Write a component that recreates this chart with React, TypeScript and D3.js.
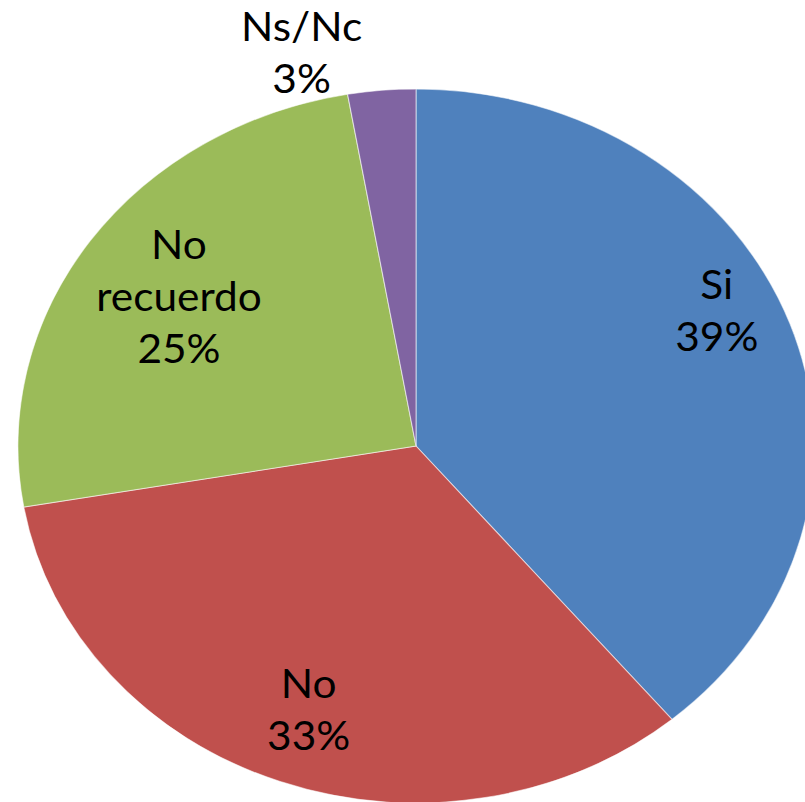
import React from "react";
import * as d3 from "d3";

const categories = ["Si", "No", "No recuerdo", "Ns/Nc"];
const values = [38.9, 33.4, 25.0, 2.75];
const labelLines = [["Si", "39%"], ["No", "33%"], ["No", "recuerdo", "25%"], ["Ns/Nc", "3%"]];
const colors = ["#4F81BD", "#C0504D", "#9BBB59", "#8064A2"];

const W = 805, H = 802;
const CX = 416, CY = 446, R = 357, SX = 1.115;
const labelRadius = [0.846, 0.786, 0.728, 1.138];
const labelAngleShift = [-0.117, 0, 0, -0.169];
const fontSize = 40, lineH = 52, capH = 29, textSX = 1.06;

export default function App() {
  const data = categories.map((c, i) => ({ c, v: values[i], i }));
  const pie = d3.pie<any>().value((d) => d.v).sort(null).startAngle(0).endAngle(2 * Math.PI);
  const arcs = pie(data);
  const arc = d3.arc<any>().innerRadius(0).outerRadius(R);
  return (
    <svg width={W} height={H} style={{ position: "absolute", left: 0, top: 0, background: "#fff" }}>
      <g transform={`translate(${CX},${CY}) scale(${SX},1)`}>
        {arcs.map((a, i) => (
          <path key={i} d={arc(a) as string} fill={colors[i]} stroke="#ffffff" strokeOpacity={0.55} strokeWidth={1} />
        ))}
      </g>
      {arcs.map((a, i) => {
        const mid = (a.startAngle + a.endAngle) / 2 + labelAngleShift[i];
        const r = R * labelRadius[i];
        const x = CX + Math.sin(mid) * r * SX;
        const y = CY - Math.cos(mid) * r;
        const lines = labelLines[i];
        const blockH = capH + (lines.length - 1) * lineH;
        const firstBase = y - blockH / 2 + capH;
        return (
          <g key={i} transform={`translate(${x},0) scale(${textSX},1)`}>
            <text x={0} textAnchor="middle" fontFamily="Lato" fontSize={fontSize} fill="#000">
              {lines.map((t, j) => (
                <tspan key={j} x={0} y={firstBase + j * lineH}>{t}</tspan>
              ))}
            </text>
          </g>
        );
      })}
    </svg>
  );
}
